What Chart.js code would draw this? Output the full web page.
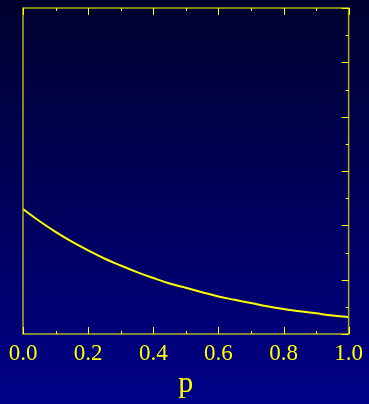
<!DOCTYPE html>
<html>
<head>
<meta charset="utf-8">
<script src="https://cdn.jsdelivr.net/npm/chart.js@4"></script>
<style>
html, body { margin: 0; padding: 0; }
body { width: 369px; height: 404px; background: linear-gradient(#00002e, #000088); overflow: hidden; }
#wrap { width: 369px; height: 404px; }
</style>
</head>
<body>
<div id="wrap"><canvas id="c" width="369" height="404"></canvas></div>
<script>
// values
const pValues = [0.00, 0.05, 0.10, 0.15, 0.20, 0.25, 0.30, 0.35, 0.40, 0.45, 0.50,
                 0.55, 0.60, 0.65, 0.70, 0.75, 0.80, 0.85, 0.90, 0.95, 1.00];
const yValues = [2.30, 2.08, 1.88, 1.70, 1.54, 1.39, 1.26, 1.14, 1.03, 0.93, 0.85,
                 0.77, 0.69, 0.63, 0.57, 0.51, 0.46, 0.42, 0.38, 0.34, 0.31];
const xTicks = [0.0, 0.2, 0.4, 0.6, 0.8, 1.0];
const xMinor = [0.1, 0.3, 0.5, 0.7, 0.9];
const yTicks = [0, 1, 2, 3, 4, 5, 6];
const yMinor = [0.5, 1.5, 2.5, 3.5, 4.5, 5.5];

const YEL = "#ffff00";

// frame + inward ticks
const frame = {
  id: "frame",
  afterDatasetsDraw(chart) {
    const ctx = chart.ctx;
    const a = chart.chartArea;
    const x = chart.scales.x, y = chart.scales.y;
    ctx.save();
    ctx.strokeStyle = "rgba(220,220,20,0.8)";
    ctx.lineWidth = 1.5;
    ctx.strokeRect(a.left, a.top, a.right - a.left, a.bottom - a.top);
    ctx.strokeStyle = YEL;
    ctx.lineWidth = 1;
    ctx.beginPath();
    xTicks.forEach(v => {
      let px = Math.round(x.getPixelForValue(v)) + 0.5;
      ctx.moveTo(px, a.top); ctx.lineTo(px, a.top + 7);
      ctx.moveTo(px, a.bottom); ctx.lineTo(px, a.bottom - 7);
    });
    xMinor.forEach(v => {
      let px = Math.round(x.getPixelForValue(v)) + 0.5;
      ctx.moveTo(px, a.top); ctx.lineTo(px, a.top + 3);
      ctx.moveTo(px, a.bottom); ctx.lineTo(px, a.bottom - 3);
    });
    yTicks.forEach(v => {
      let py = Math.round(y.getPixelForValue(v)) + 0.5;
      ctx.moveTo(a.right, py); ctx.lineTo(a.right - 7, py);
    });
    yMinor.forEach(v => {
      let py = Math.round(y.getPixelForValue(v)) + 0.5;
      ctx.moveTo(a.right, py); ctx.lineTo(a.right - 3, py);
    });
    ctx.stroke();
    ctx.restore();
  }
};

new Chart(document.getElementById("c"), {
  type: "line",
  data: {
    datasets: [{
      data: pValues.map((p, i) => ({ x: p, y: yValues[i] })),
      borderColor: YEL,
      borderWidth: 2,
      pointRadius: 0,
      tension: 0.4,
      fill: false
    }]
  },
  options: {
    responsive: false,
    animation: false,
    layout: { padding: { left: 23, right: 20, top: 8, bottom: 0 } },
    plugins: { legend: { display: false }, tooltip: { enabled: false } },
    scales: {
      x: {
        type: "linear",
        min: 0, max: 1,
        afterFit: s => { s.height = 70; },
        afterBuildTicks: s => { s.ticks = xTicks.map(v => ({ value: v })); },
        grid: { display: false, drawTicks: false },
        border: { display: false },
        ticks: {
          color: YEL,
          padding: 6,
          maxRotation: 0,
          font: { family: "Liberation Serif", size: 23 },
          callback: v => Number(v).toFixed(1)
        },
        title: {
          display: true,
          text: "p",
          color: YEL,
          padding: { top: 0, bottom: 2 },
          font: { family: "Liberation Serif", size: 30 }
        }
      },
      y: {
        min: 0, max: 6,
        display: false
      }
    }
  },
  plugins: [frame]
});
</script>
</body>
</html>
